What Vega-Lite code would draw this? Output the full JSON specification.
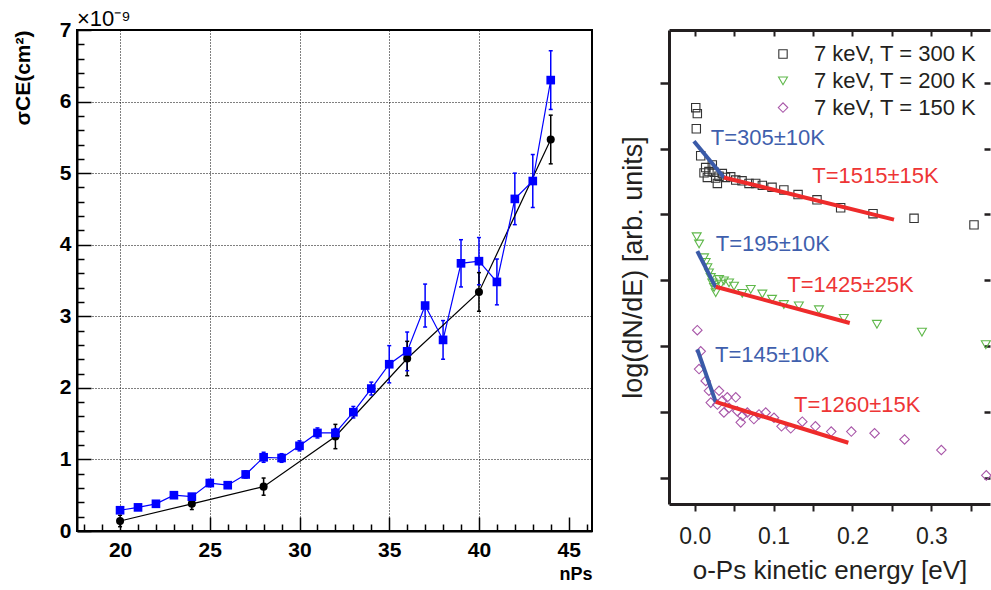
{
  "$schema": "https://vega.github.io/schema/vega-lite/v6.json",
  "background": "white",
  "padding": {"left": 11, "top": 7, "right": 0, "bottom": 0},
  "bounds": "flush",
  "spacing": 77,
  "config": {"font": "Liberation Sans", "view": {"stroke": null}},
  "resolve": {
    "scale": {"color": "independent", "shape": "independent", "size": "independent"},
    "legend": {"color": "independent", "shape": "independent", "size": "independent"}
  },
  "datasets": {
    "blue": [
      {"n": 20, "y": 0.29, "lo": 0.25, "hi": 0.33},
      {"n": 21, "y": 0.33, "lo": 0.29, "hi": 0.37},
      {"n": 22, "y": 0.38, "lo": 0.34, "hi": 0.42},
      {"n": 23, "y": 0.50, "lo": 0.46, "hi": 0.54},
      {"n": 24, "y": 0.48, "lo": 0.44, "hi": 0.52},
      {"n": 25, "y": 0.67, "lo": 0.62, "hi": 0.72},
      {"n": 26, "y": 0.64, "lo": 0.60, "hi": 0.68},
      {"n": 27, "y": 0.79, "lo": 0.74, "hi": 0.84},
      {"n": 28, "y": 1.03, "lo": 0.96, "hi": 1.10},
      {"n": 29, "y": 1.02, "lo": 0.96, "hi": 1.08},
      {"n": 30, "y": 1.19, "lo": 1.12, "hi": 1.26},
      {"n": 31, "y": 1.37, "lo": 1.30, "hi": 1.44},
      {"n": 32, "y": 1.37, "lo": 1.31, "hi": 1.43},
      {"n": 33, "y": 1.66, "lo": 1.58, "hi": 1.74},
      {"n": 34, "y": 1.99, "lo": 1.90, "hi": 2.08},
      {"n": 35, "y": 2.33, "lo": 2.07, "hi": 2.59},
      {"n": 36, "y": 2.51, "lo": 2.24, "hi": 2.78},
      {"n": 37, "y": 3.15, "lo": 2.85, "hi": 3.45},
      {"n": 38, "y": 2.67, "lo": 2.40, "hi": 2.94},
      {"n": 39, "y": 3.74, "lo": 3.41, "hi": 4.07},
      {"n": 40, "y": 3.77, "lo": 3.44, "hi": 4.10},
      {"n": 41, "y": 3.48, "lo": 3.16, "hi": 3.80},
      {"n": 42, "y": 4.64, "lo": 4.28, "hi": 5.00},
      {"n": 43, "y": 4.89, "lo": 4.52, "hi": 5.26},
      {"n": 44, "y": 6.30, "lo": 5.89, "hi": 6.71}
    ],
    "black": [
      {"n": 20, "y": 0.14, "lo": 0.06, "hi": 0.22},
      {"n": 24, "y": 0.38, "lo": 0.30, "hi": 0.46},
      {"n": 28, "y": 0.62, "lo": 0.50, "hi": 0.74},
      {"n": 32, "y": 1.32, "lo": 1.15, "hi": 1.49},
      {"n": 36, "y": 2.41, "lo": 2.17, "hi": 2.65},
      {"n": 40, "y": 3.34, "lo": 3.07, "hi": 3.61},
      {"n": 44, "y": 5.47, "lo": 5.13, "hi": 5.81}
    ],
    "pts": [
      {"s": "7 keV, T = 300 K", "e": 0.0013, "v": 5.62},
      {"s": "7 keV, T = 300 K", "e": 0.0033, "v": 5.53},
      {"s": "7 keV, T = 300 K", "e": 0.002, "v": 5.30},
      {"s": "7 keV, T = 300 K", "e": 0.0076, "v": 4.89},
      {"s": "7 keV, T = 300 K", "e": 0.0118, "v": 4.63},
      {"s": "7 keV, T = 300 K", "e": 0.0139, "v": 4.71},
      {"s": "7 keV, T = 300 K", "e": 0.016, "v": 4.56},
      {"s": "7 keV, T = 300 K", "e": 0.018, "v": 4.65},
      {"s": "7 keV, T = 300 K", "e": 0.0223, "v": 4.75},
      {"s": "7 keV, T = 300 K", "e": 0.0245, "v": 4.64},
      {"s": "7 keV, T = 300 K", "e": 0.0266, "v": 4.55},
      {"s": "7 keV, T = 300 K", "e": 0.0287, "v": 4.47},
      {"s": "7 keV, T = 300 K", "e": 0.0308, "v": 4.58},
      {"s": "7 keV, T = 300 K", "e": 0.035, "v": 4.62},
      {"s": "7 keV, T = 300 K", "e": 0.039, "v": 4.56},
      {"s": "7 keV, T = 300 K", "e": 0.0456, "v": 4.57},
      {"s": "7 keV, T = 300 K", "e": 0.052, "v": 4.52},
      {"s": "7 keV, T = 300 K", "e": 0.060, "v": 4.51},
      {"s": "7 keV, T = 300 K", "e": 0.0688, "v": 4.47},
      {"s": "7 keV, T = 300 K", "e": 0.0773, "v": 4.47},
      {"s": "7 keV, T = 300 K", "e": 0.0857, "v": 4.44},
      {"s": "7 keV, T = 300 K", "e": 0.098, "v": 4.41},
      {"s": "7 keV, T = 300 K", "e": 0.113, "v": 4.37},
      {"s": "7 keV, T = 300 K", "e": 0.131, "v": 4.30},
      {"s": "7 keV, T = 300 K", "e": 0.155, "v": 4.22},
      {"s": "7 keV, T = 300 K", "e": 0.185, "v": 4.10},
      {"s": "7 keV, T = 300 K", "e": 0.226, "v": 4.01},
      {"s": "7 keV, T = 300 K", "e": 0.278, "v": 3.94},
      {"s": "7 keV, T = 300 K", "e": 0.354, "v": 3.84},
      {"s": "7 keV, T = 200 K", "e": 0.0025, "v": 3.66},
      {"s": "7 keV, T = 200 K", "e": 0.0055, "v": 3.55},
      {"s": "7 keV, T = 200 K", "e": 0.0118, "v": 3.34},
      {"s": "7 keV, T = 200 K", "e": 0.0139, "v": 3.27},
      {"s": "7 keV, T = 200 K", "e": 0.016, "v": 3.19},
      {"s": "7 keV, T = 200 K", "e": 0.018, "v": 3.11},
      {"s": "7 keV, T = 200 K", "e": 0.0203, "v": 3.04},
      {"s": "7 keV, T = 200 K", "e": 0.0223, "v": 2.96},
      {"s": "7 keV, T = 200 K", "e": 0.0245, "v": 2.89},
      {"s": "7 keV, T = 200 K", "e": 0.0266, "v": 2.81},
      {"s": "7 keV, T = 200 K", "e": 0.0308, "v": 3.01},
      {"s": "7 keV, T = 200 K", "e": 0.033, "v": 2.94},
      {"s": "7 keV, T = 200 K", "e": 0.037, "v": 2.99},
      {"s": "7 keV, T = 200 K", "e": 0.0435, "v": 2.96},
      {"s": "7 keV, T = 200 K", "e": 0.0498, "v": 2.91},
      {"s": "7 keV, T = 200 K", "e": 0.0603, "v": 2.80},
      {"s": "7 keV, T = 200 K", "e": 0.071, "v": 2.86},
      {"s": "7 keV, T = 200 K", "e": 0.0857, "v": 2.79},
      {"s": "7 keV, T = 200 K", "e": 0.098, "v": 2.71},
      {"s": "7 keV, T = 200 K", "e": 0.113, "v": 2.63},
      {"s": "7 keV, T = 200 K", "e": 0.132, "v": 2.61},
      {"s": "7 keV, T = 200 K", "e": 0.1575, "v": 2.55},
      {"s": "7 keV, T = 200 K", "e": 0.189, "v": 2.42},
      {"s": "7 keV, T = 200 K", "e": 0.231, "v": 2.33},
      {"s": "7 keV, T = 200 K", "e": 0.288, "v": 2.21},
      {"s": "7 keV, T = 200 K", "e": 0.369, "v": 2.02},
      {"s": "7 keV, T = 150 K", "e": 0.0033, "v": 2.24},
      {"s": "7 keV, T = 150 K", "e": 0.0076, "v": 1.92},
      {"s": "7 keV, T = 150 K", "e": 0.0055, "v": 1.65},
      {"s": "7 keV, T = 150 K", "e": 0.0139, "v": 1.47},
      {"s": "7 keV, T = 150 K", "e": 0.018, "v": 1.32},
      {"s": "7 keV, T = 150 K", "e": 0.0203, "v": 1.14},
      {"s": "7 keV, T = 150 K", "e": 0.0287, "v": 1.11},
      {"s": "7 keV, T = 150 K", "e": 0.0308, "v": 1.32},
      {"s": "7 keV, T = 150 K", "e": 0.035, "v": 1.17},
      {"s": "7 keV, T = 150 K", "e": 0.037, "v": 0.99},
      {"s": "7 keV, T = 150 K", "e": 0.0413, "v": 1.22},
      {"s": "7 keV, T = 150 K", "e": 0.0435, "v": 1.06},
      {"s": "7 keV, T = 150 K", "e": 0.052, "v": 1.22},
      {"s": "7 keV, T = 150 K", "e": 0.054, "v": 1.01},
      {"s": "7 keV, T = 150 K", "e": 0.0583, "v": 0.84},
      {"s": "7 keV, T = 150 K", "e": 0.0603, "v": 0.94},
      {"s": "7 keV, T = 150 K", "e": 0.0667, "v": 0.99},
      {"s": "7 keV, T = 150 K", "e": 0.075, "v": 0.89},
      {"s": "7 keV, T = 150 K", "e": 0.0815, "v": 0.96},
      {"s": "7 keV, T = 150 K", "e": 0.09, "v": 0.99},
      {"s": "7 keV, T = 150 K", "e": 0.1005, "v": 0.91},
      {"s": "7 keV, T = 150 K", "e": 0.11, "v": 0.78},
      {"s": "7 keV, T = 150 K", "e": 0.1217, "v": 0.75},
      {"s": "7 keV, T = 150 K", "e": 0.1364, "v": 0.85},
      {"s": "7 keV, T = 150 K", "e": 0.153, "v": 0.78},
      {"s": "7 keV, T = 150 K", "e": 0.173, "v": 0.70},
      {"s": "7 keV, T = 150 K", "e": 0.1985, "v": 0.70},
      {"s": "7 keV, T = 150 K", "e": 0.228, "v": 0.675},
      {"s": "7 keV, T = 150 K", "e": 0.266, "v": 0.58},
      {"s": "7 keV, T = 150 K", "e": 0.3126, "v": 0.42},
      {"s": "7 keV, T = 150 K", "e": 0.3696, "v": 0.035}
    ],
    "lowfit": [
      {"g": "300", "e": -0.001, "v": 5.11},
      {"g": "300", "e": 0.037, "v": 4.56},
      {"g": "200", "e": 0.0033, "v": 3.44},
      {"g": "200", "e": 0.0266, "v": 2.89},
      {"g": "150", "e": 0.0033, "v": 1.95},
      {"g": "150", "e": 0.0266, "v": 1.15}
    ],
    "highfit": [
      {"g": "300", "e": 0.037, "v": 4.56},
      {"g": "300", "e": 0.2526, "v": 3.92},
      {"g": "200", "e": 0.0266, "v": 2.90},
      {"g": "200", "e": 0.1965, "v": 2.35},
      {"g": "150", "e": 0.0266, "v": 1.15},
      {"g": "150", "e": 0.1947, "v": 0.53}
    ],
    "lowtext": [
      {"t": "T=305±10K", "e": 0.0203, "v": 5.165},
      {"t": "T=195±10K", "e": 0.0266, "v": 3.55},
      {"t": "T=145±10K", "e": 0.0257, "v": 1.86}
    ],
    "hightext": [
      {"t": "T=1515±15K", "e": 0.149, "v": 4.58},
      {"t": "T=1425±25K", "e": 0.1174, "v": 2.93},
      {"t": "T=1260±15K", "e": 0.1259, "v": 1.11}
    ]
  },
  "hconcat": [
    {
      "width": 515,
      "height": 501,
      "view": {"stroke": "black", "strokeWidth": 2},
      "title": {"text": "×10⁻⁹", "anchor": "start", "frame": "group", "fontSize": 22, "fontWeight": "normal", "offset": -12, "color": "black"},
      "resolve": {"axis": {"x": "independent", "y": "independent"}},
      "layer": [
        {
          "data": {"name": "blue"},
          "mark": {"type": "rule", "color": "#0000ff", "strokeWidth": 1.5},
          "encoding": {
            "x": {"field": "n", "type": "quantitative",
              "scale": {"domain": [17.6, 46.3], "nice": false, "zero": false},
              "axis": {
                "orient": "bottom",
                "values": [20, 25, 30, 35, 40, 45],
                "labelFontSize": 21, "labelFontWeight": "bold", "labelColor": "black", "labelPadding": 22,
                "labelOverlap": false, "labelFlush": false,
                "tickSize": -14, "tickColor": "black", "tickWidth": 1.5,
                "domainColor": "black", "domainWidth": 2, "grid": false,
                "title": "nPs", "titleAnchor": "end", "titleAlign": "right", "titleBaseline": "alphabetic",
                "titleX": 515, "titleY": 48,
                "titleFontSize": 18, "titleFontWeight": "bold", "titleColor": "black"
              }
            },
            "y": {"field": "lo", "type": "quantitative",
              "scale": {"domain": [0, 7], "nice": false, "zero": false},
              "axis": {
                "orient": "left",
                "values": [0, 1, 2, 3, 4, 5, 6, 7],
                "labelFontSize": 21, "labelFontWeight": "bold", "labelColor": "black", "labelPadding": 20,
                "labelOverlap": false, "labelFlush": false,
                "tickSize": -14, "tickColor": "black", "tickWidth": 1.5,
                "domainColor": "black", "domainWidth": 2, "grid": false,
                "title": "σCE(cm²)", "titleAnchor": "end", "titleFontSize": 21, "titleFontWeight": "bold", "titleColor": "black", "titlePadding": 26
              }
            },
            "y2": {"field": "hi"}
          }
        },
        {
          "data": {"name": "black"},
          "mark": {"type": "rule", "color": "black", "strokeWidth": 1.5},
          "encoding": {
            "x": {"field": "n", "type": "quantitative",
              "axis": {"orient": "bottom", "values": [18,19,21,22,23,24,26,27,28,29,31,32,33,34,36,37,38,39,41,42,43,44,46],
                "labels": false, "domain": false, "grid": false, "tickSize": -7, "tickColor": "black", "tickWidth": 1.5, "title": null}
            },
            "y": {"field": "lo", "type": "quantitative",
              "axis": {"orient": "left", "values": [0.2,0.4,0.6,0.8,1.2,1.4,1.6,1.8,2.2,2.4,2.6,2.8,3.2,3.4,3.6,3.8,4.2,4.4,4.6,4.8,5.2,5.4,5.6,5.8,6.2,6.4,6.6,6.8],
                "labels": false, "domain": false, "grid": false, "tickSize": -7, "tickColor": "black", "tickWidth": 1.5, "title": null}
            },
            "y2": {"field": "hi"}
          }
        },
        {
          "data": {"name": "black"},
          "mark": {"type": "line", "color": "black", "strokeWidth": 1.2},
          "encoding": {
            "x": {"field": "n", "type": "quantitative",
              "axis": {"orient": "bottom", "values": [20, 25, 30, 35, 40], "labels": false, "domain": false, "ticks": false,
                "grid": true, "gridColor": "black", "gridDash": [1, 2], "gridWidth": 1, "title": null}
            },
            "y": {"field": "y", "type": "quantitative",
              "axis": {"orient": "left", "values": [1, 2, 3, 4, 5, 6], "labels": false, "domain": false, "ticks": false,
                "grid": true, "gridColor": "black", "gridDash": [1, 2], "gridWidth": 1, "title": null}
            }
          }
        },
        {
          "data": {"name": "blue"},
          "mark": {"type": "line", "color": "#0000ff", "strokeWidth": 1.2},
          "encoding": {
            "x": {"field": "n", "type": "quantitative", "axis": null},
            "y": {"field": "y", "type": "quantitative", "axis": null}
          }
        },
        {
          "data": {"name": "blue"},
          "mark": {"type": "tick", "orient": "horizontal", "color": "#0000ff", "size": 4, "thickness": 1.5, "opacity": 1},
          "encoding": {
            "x": {"field": "n", "type": "quantitative", "axis": null},
            "y": {"field": "hi", "type": "quantitative", "axis": null}
          }
        },
        {
          "data": {"name": "blue"},
          "mark": {"type": "tick", "orient": "horizontal", "color": "#0000ff", "size": 4, "thickness": 1.5, "opacity": 1},
          "encoding": {
            "x": {"field": "n", "type": "quantitative", "axis": null},
            "y": {"field": "lo", "type": "quantitative", "axis": null}
          }
        },
        {
          "data": {"name": "black"},
          "mark": {"type": "tick", "orient": "horizontal", "color": "black", "size": 4, "thickness": 1.5, "opacity": 1},
          "encoding": {
            "x": {"field": "n", "type": "quantitative", "axis": null},
            "y": {"field": "hi", "type": "quantitative", "axis": null}
          }
        },
        {
          "data": {"name": "black"},
          "mark": {"type": "tick", "orient": "horizontal", "color": "black", "size": 4, "thickness": 1.5, "opacity": 1},
          "encoding": {
            "x": {"field": "n", "type": "quantitative", "axis": null},
            "y": {"field": "lo", "type": "quantitative", "axis": null}
          }
        },
        {
          "data": {"name": "black"},
          "mark": {"type": "point", "shape": "circle", "filled": true, "color": "black", "size": 65, "opacity": 1},
          "encoding": {
            "x": {"field": "n", "type": "quantitative", "axis": null},
            "y": {"field": "y", "type": "quantitative", "axis": null}
          }
        },
        {
          "data": {"name": "blue"},
          "mark": {"type": "point", "shape": "square", "filled": true, "color": "#0000ff", "size": 75, "opacity": 1},
          "encoding": {
            "x": {"field": "n", "type": "quantitative", "axis": null},
            "y": {"field": "y", "type": "quantitative", "axis": null}
          }
        }
      ]
    },
    {
      "width": 321,
      "height": 474,
      "resolve": {"axis": {"x": "independent", "y": "independent"}},
      "layer": [
        {
          "data": {"name": "pts"},
          "mark": {"type": "point", "filled": false, "strokeWidth": 1.1, "opacity": 1},
          "encoding": {
            "x": {"field": "e", "type": "quantitative",
              "scale": {"domain": [-0.0326, 0.3743], "nice": false, "zero": false},
              "axis": {
                "orient": "bottom",
                "values": [0, 0.05, 0.1, 0.15, 0.2, 0.25, 0.3, 0.35],
                "labelExpr": "round(datum.value * 100) % 10 === 0 ? format(datum.value, '.1f') : ''",
                "labelFontSize": 23, "labelColor": "#231f20", "labelPadding": 14, "labelOverlap": false, "labelFlush": false,
                "tickSize": 7, "tickWidth": 2, "tickColor": "#231f20",
                "domainColor": "#231f20", "domainWidth": 3, "grid": false,
                "title": "o-Ps kinetic energy [eV]", "titleFontSize": 26, "titleFontWeight": "normal", "titleColor": "#231f20", "titlePadding": 9
              }
            },
            "y": {"field": "v", "type": "quantitative",
              "scale": {"domain": [-0.4, 6.8], "nice": false, "zero": false},
              "axis": {
                "orient": "left",
                "values": [0, 1, 2, 3, 4, 5, 6],
                "labels": false,
                "tickSize": 9, "tickWidth": 2.5, "tickColor": "#231f20",
                "domainColor": "#231f20", "domainWidth": 3, "grid": false,
                "title": "log(dN/dE) [arb. units]", "titleFontSize": 27, "titleFontWeight": "normal", "titleColor": "#231f20", "titlePadding": 11
              }
            },
            "color": {"field": "s", "type": "nominal",
              "scale": {"domain": ["7 keV, T = 300 K", "7 keV, T = 200 K", "7 keV, T = 150 K"], "range": ["#333333", "#5fb84a", "#a856a8"]},
              "legend": {"orient": "none", "legendX": 103, "legendY": 13, "title": null, "padding": 0,
                "labelFontSize": 22, "labelColor": "#231f20", "labelOffset": 20, "labelLimit": 400, "rowPadding": 4.8,
                "symbolSize": 75, "symbolStrokeWidth": 1.1, "symbolFillColor": "transparent"}
            },
            "shape": {"field": "s", "type": "nominal",
              "scale": {"domain": ["7 keV, T = 300 K", "7 keV, T = 200 K", "7 keV, T = 150 K"], "range": ["square", "triangle-down", "diamond"]},
              "legend": {"orient": "none", "legendX": 103, "legendY": 13, "title": null, "padding": 0,
                "labelFontSize": 22, "labelColor": "#231f20", "labelOffset": 20, "labelLimit": 400, "rowPadding": 4.8,
                "symbolSize": 75, "symbolStrokeWidth": 1.1, "symbolFillColor": "transparent"}
            },
            "size": {"field": "s", "type": "nominal",
              "scale": {"domain": ["7 keV, T = 300 K", "7 keV, T = 200 K", "7 keV, T = 150 K"], "range": [70, 90, 100]},
              "legend": null
            }
          }
        },
        {
          "data": {"name": "lowfit"},
          "mark": {"type": "line", "color": "#3a5aa8", "strokeWidth": 4},
          "encoding": {
            "x": {"field": "e", "type": "quantitative",
              "axis": {"orient": "top", "values": [0, 0.05, 0.1, 0.15, 0.2, 0.25, 0.3, 0.35], "labels": false,
                "tickSize": -6, "tickWidth": 2, "tickColor": "#231f20", "domainColor": "#231f20", "domainWidth": 3, "grid": false, "title": null}
            },
            "y": {"field": "v", "type": "quantitative",
              "axis": {"orient": "right", "values": [0, 1, 2, 3, 4, 5, 6], "labels": false,
                "tickSize": -6, "tickWidth": 2.5, "tickColor": "#231f20", "domain": false, "grid": false, "title": null}
            },
            "detail": {"field": "g"}
          }
        },
        {
          "data": {"name": "highfit"},
          "mark": {"type": "line", "color": "#ee2b2b", "strokeWidth": 4},
          "encoding": {
            "x": {"field": "e", "type": "quantitative", "axis": null},
            "y": {"field": "v", "type": "quantitative", "axis": null},
            "detail": {"field": "g"}
          }
        },
        {
          "data": {"name": "lowtext"},
          "mark": {"type": "text", "color": "#3f5fad", "fontSize": 22, "align": "left", "baseline": "middle"},
          "encoding": {
            "x": {"field": "e", "type": "quantitative", "axis": null},
            "y": {"field": "v", "type": "quantitative", "axis": null},
            "text": {"field": "t"}
          }
        },
        {
          "data": {"name": "hightext"},
          "mark": {"type": "text", "color": "#ee3535", "fontSize": 22, "align": "left", "baseline": "middle"},
          "encoding": {
            "x": {"field": "e", "type": "quantitative", "axis": null},
            "y": {"field": "v", "type": "quantitative", "axis": null},
            "text": {"field": "t"}
          }
        }
      ]
    }
  ]
}
